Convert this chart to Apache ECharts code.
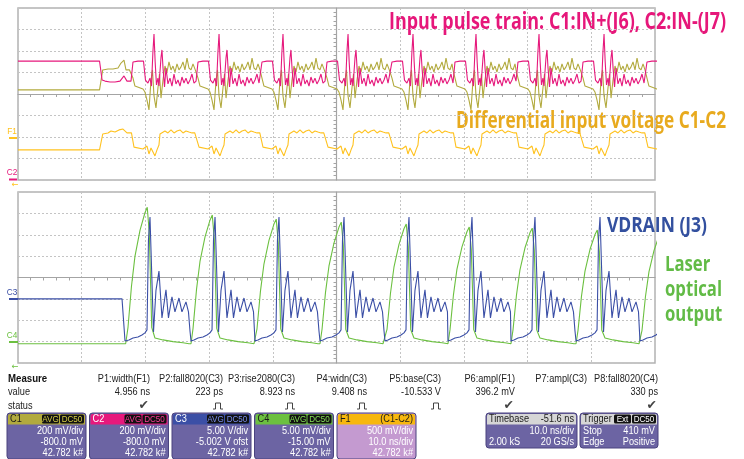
<!DOCTYPE html>
<html>
<head>
<meta charset="utf-8">
<script src="https://cdn.jsdelivr.net/npm/echarts@6/dist/echarts.min.js"></script>
<style>
    html, body { margin: 0; padding: 0; background: #fff; }
    #scope { width: 744px; height: 459px; }
</style>
</head>
<body>
<div id="scope"></div>
<script>
// time in ns (screen centre = 0, 10 ns/div), amplitude in divisions (-4..4)
var cycleStart = [-31.95, -21.74, -11.70, -1.49, 8.71, 18.60, 28.49, 38.70, 48.74];

// top screen: C1 / C2 inputs and F1 = C1-C2
var pinkLead = [[-50, 1.53], [-37.2, 1.53], [-36.8, 0.65], [-36.34, 0.60], [-35.56, 0.56], [-34.77, 0.56], [-33.99, 0.60], [-33.36, 0.84], [-32.89, 0.60]];
var pinkCycle = [[-0.31, 0.60], [0, 1.49], [0.78, 1.53], [1.65, 1.53], [1.96, 0.65], [2.35, 0.51], [2.67, 0.74], [2.90, 0.37], [3.12, 1.9], [3.30, 2.79], [3.48, 1.5], [3.69, 0.42], [3.92, 0.74], [4.08, 0.37], [4.40, 1.7], [4.55, 2.05], [4.72, 1.2], [4.95, 0.33], [5.18, 1.21], [5.49, 0.47], [5.81, 0.74], [6.12, 0.37], [6.44, 0.93], [6.75, 0.47], [7.06, 0.65], [7.38, 0.37], [7.69, 0.79], [8.01, 0.51], [8.32, 0.74], [8.63, 0.47], [8.95, 0.65], [9.26, 0.93], [9.58, 0.51], [9.78, 0.60]];

var oliveLead = [[-50, 0.19], [-37.2, 0.19], [-36.7, 1.12], [-35.87, 1.16], [-35.09, 1.16], [-34.3, 1.21], [-33.83, 1.44], [-33.36, 1.58], [-33.05, 1.12], [-32.5, 1.12]];
var oliveCycle = [[-0.31, 1.12], [0, 0.74], [0.31, 0.37], [1.57, 0.23], [1.88, 0.09], [2.20, -0.28], [2.51, -0.74], [2.83, 0.65], [3.06, 1.12], [3.30, -0.09], [3.61, -0.65], [3.92, 0.28], [4.16, 0.93], [4.40, -0.19], [4.71, 0.65], [5.02, 1.30], [5.34, 1.02], [5.65, 1.49], [5.97, 1.12], [6.28, 1.30], [6.59, 1.02], [6.91, 1.40], [7.22, 1.12], [7.54, 1.26], [7.85, 1.49], [8.16, 1.12], [8.48, 1.67], [8.79, 1.21], [9.11, 1.12], [9.42, 1.40], [9.78, 1.12]];

var yellowLead = [[-50, -2.60], [-37.2, -2.60], [-36.7, -1.86], [-35.87, -1.81], [-35.4, -1.72], [-34.77, -1.77], [-34.14, -1.67], [-33.52, -1.63], [-32.89, -1.81]];
var yellowCycle = [[-0.24, -1.81], [0.16, -2.47], [1.57, -2.56], [1.88, -2.65], [2.20, -2.42], [2.51, -2.79], [2.83, -2.51], [3.14, -2.42], [3.45, -2.88], [3.77, -2.60], [4.08, -2.37], [4.24, -1.86], [4.55, -1.81], [5.02, -1.72], [5.49, -1.81], [5.97, -1.67], [6.44, -1.81], [6.91, -1.72], [7.38, -1.67], [7.85, -1.81], [8.32, -1.72], [8.79, -1.77], [9.26, -1.81], [9.70, -1.81]];

// bottom screen: C3 drain voltage, C4 laser output
var blueLead = [[-50, -1.0], [-33.67, -1.0], [-33.2, -2.97]];
var blueCycle = [[-1.10, -2.97], [-0.63, -2.92], [0, -2.83], [0.78, -2.78], [1.41, -2.69], [1.88, -2.59], [2.20, -2.45], [2.43, 1.75], [2.67, 2.83], [2.83, 1.29], [3.22, -2.55], [3.61, -0.60], [4.08, 0.30], [4.55, -1.89], [5.18, -0.58], [5.57, -1.89], [6.12, -0.91], [6.59, -1.61], [7.22, -0.96], [7.69, -1.61], [8.32, -1.14], [8.71, -1.61], [8.95, -2.50]];

var greenBase = -3.1;
var greenLead = [[-50, -3.1], [-33.1, -3.1]];
var greenPeak = [3.29, 2.92, 2.73, 2.59, 2.50, 2.36, 2.31, 2.22, 2.15];
var greenRise = [[-1.10, 0], [-0.78, 0.12], [-0.24, 0.42], [0.31, 0.64], [1.10, 0.83], [1.88, 0.96], [2.24, 1.0], [2.56, 0.81], [2.94, 0.12]];
var greenTail = [[3.45, -2.83], [4.71, -2.92], [6.28, -3.0], [7.85, -3.05], [8.79, -3.1]];

var annotations = ['Input pulse train: C1:IN+(J6), C2:IN-(J7)', 'Differential input voltage C1-C2', 'VDRAIN (J3)', 'Laser', 'optical', 'output'];

var measureNames = ['P1:width(F1)', 'P2:fall8020(C3)', 'P3:rise2080(C3)', 'P4:widn(C3)', 'P5:base(C3)', 'P6:ampl(F1)', 'P7:ampl(C3)', 'P8:fall8020(C4)'];
var measureValues = ['4.956 ns', '223 ps', '8.923 ns', '9.408 ns', '-10.533 V', '396.2 mV', '', '330 ps'];
var measureStatus = ['ok', 'pulse', 'pulse', 'pulse', 'pulse', 'ok', '', 'ok'];

var channelNames = ['C1', 'C2', 'C3', 'C4', 'F1'];
var channelTags = [['AVG', 'DC50'], ['AVG', 'DC50'], ['AVG', 'DC50'], ['AVG', 'DC50'], []];
var channelSource = ['', '', '', '', '(C1-C2)'];
var channelScale = ['200 mV/div', '200 mV/div', '5.00 V/div', '5.00 mV/div', '500 mV/div'];
var channelOffset = ['-800.0 mV', '-800.0 mV', '-5.002 V ofst', '-15.00 mV', '10.0 ns/div'];
var channelCount = ['42.782 k#', '42.782 k#', '42.782 k#', '42.782 k#', '42.782 k#'];
var timebaseText = ['Timebase', '-51.6 ns', '10.0 ns/div', '2.00 kS', '20 GS/s'];
var triggerText = ['Trigger', 'Ext', 'DC50', 'Stop', '410 mV', 'Edge', 'Positive'];

var COL = {
    c1: '#b2aa3e', c2: '#e6197c', c3: '#3b4fa6', c4: '#6cc040', f1: '#ffc21f',
    txtPink: '#e6177a', txtGold: '#e8aa1e', txtBlue: '#33509f', txtGreen: '#62bb46'
};
var SMALL = '10px "Liberation Sans"';
var SQ = 0.92;   // the scope's UI font is a little narrower than Arial
var BIG = 'bold 23px "Open Sans"';
var measureCtx = document.createElement('canvas').getContext('2d');

function buildTrace(lead, cycle) {
    var out = lead.slice();
    cycleStart.forEach(function (s, k) {
        var limit = k + 1 < cycleStart.length ? cycleStart[k + 1] + cycle[0][0] : Infinity;
        cycle.forEach(function (p) {
            if (s + p[0] < limit) out.push([+(s + p[0]).toFixed(2), p[1]]);
        });
    });
    return out;
}

function buildGreen() {
    var out = greenLead.slice();
    cycleStart.forEach(function (s, k) {
        var peak = greenPeak[k];
        var limit = k + 1 < cycleStart.length ? cycleStart[k + 1] + greenRise[0][0] : Infinity;
        greenRise.forEach(function (p) {
            if (s + p[0] < limit) out.push([+(s + p[0]).toFixed(2), +(greenBase + p[1] * (peak - greenBase)).toFixed(2)]);
        });
        greenTail.forEach(function (p) {
            if (s + p[0] < limit) out.push([+(s + p[0]).toFixed(2), p[1]]);
        });
    });
    return out;
}

function txt(s, x, y, color, align, font, sx) {
    return {
        type: 'text', x: x, y: y, silent: true, scaleX: sx || SQ,
        style: { text: s, fill: color, font: font || SMALL, align: align || 'left', textAlign: align || 'left', verticalAlign: 'middle', textVerticalAlign: 'middle' }
    };
}

// condensed headline text: squeeze to the width it takes in the picture
function fitScale(s, font, width) {
    measureCtx.font = font;
    return width / measureCtx.measureText(s).width;
}

function rect(x, y, w, h, fill, stroke, r) {
    return { type: 'rect', silent: true, shape: { x: x, y: y, width: w, height: h, r: r || 0 }, style: { fill: fill, stroke: stroke || null, lineWidth: stroke ? 1 : 0 } };
}

function seg(x1, y1, x2, y2, color, w) {
    return { type: 'line', silent: true, shape: { x1: x1, y1: y1, x2: x2, y2: y2 }, style: { stroke: color, lineWidth: w || 1 } };
}

function badge(label, right, width, color) {
    return [
        rect(right - width, 414.5, width, 9, '#111', null, 1.5),
        txt(label, right - width / 2, 419.2, color, 'center', '8.5px "Liberation Sans"', 0.95)
    ];
}

function buildGraphics() {
    var g = [];
    // headline annotations
    g.push(txt(annotations[0], 389, 22, COL.txtPink, 'left', BIG, fitScale(annotations[0], BIG, 337)));
    g.push(txt(annotations[1], 456, 121, COL.txtGold, 'left', BIG, fitScale(annotations[1], BIG, 270)));
    var mid = 'bold 22px "Open Sans"';
    g.push(txt(annotations[2], 607, 226, COL.txtBlue, 'left', mid, fitScale(annotations[2], mid, 100)));
    var kg = fitScale(annotations[4], mid, 57);
    [265, 290, 315].forEach(function (y, i) {
        g.push(txt(annotations[3 + i], 665, y, COL.txtGreen, 'left', mid, kg));
    });

    // trace markers at the left edge
    var tiny = '9px "Liberation Sans"';
    g.push(txt('F1', 12, 132, COL.f1, 'center', tiny), seg(9, 138, 17, 138, COL.f1, 2));
    g.push(txt('C2', 12, 173, COL.c2, 'center', tiny), seg(9, 179.5, 17, 179.5, COL.c2, 2));
    g.push(txt('\u2190', 15, 185, COL.f1, 'center', '9px "DejaVu Sans"'));
    g.push(txt('C3', 12, 293, COL.c3, 'center', tiny), seg(9, 299, 18, 299, COL.c3, 2));
    g.push(txt('C4', 12, 336, COL.c4, 'center', tiny), seg(9, 342, 18, 342, COL.c4, 2));
    g.push(txt('\u2190', 15, 367, COL.c4, 'center', '9px "DejaVu Sans"'));

    // measurement table
    g.push(txt('Measure', 8, 379, '#111', 'left', 'bold 10.5px "Liberation Sans"'));
    g.push(txt('value', 8, 392, '#222', 'left'));
    g.push(txt('status', 8, 406, '#222', 'left'));
    var colRight = [150, 223, 295, 367, 441, 515, 587, 658];
    measureNames.forEach(function (name, i) {
        var r = colRight[i];
        g.push(txt(name, r, 379, '#222', 'right'));
        if (measureValues[i]) g.push(txt(measureValues[i], r, 392, '#222', 'right'));
        if (measureStatus[i] === 'ok') {
            g.push(txt('\u2714', r - 1, 406, '#444', 'right', '12.5px "DejaVu Sans"', 1));
        } else if (measureStatus[i] === 'pulse') {
            var cx = r - 5, y = 406;
            g.push({ type: 'polyline', silent: true, shape: { points: [[cx - 5, y + 3], [cx - 2.5, y + 3], [cx - 2.5, y - 3], [cx + 2.5, y - 3], [cx + 2.5, y + 3], [cx + 5, y + 3]] }, style: { stroke: '#444', fill: null, lineWidth: 1 } });
        }
    });

    // channel descriptor boxes
    var headFill = [COL.c1, COL.c2, COL.c3, COL.c4, '#f7b70e'];
    var headText = ['#1a1a1a', '#fff', '#fff', '#1a1a1a', '#1a1a1a'];
    var bodyFill = ['#6c64a3', '#6c64a3', '#6c64a3', '#6c64a3', '#c49ad0'];
    var tagText = ['#d8cf45', '#ff3d98', '#7b8ff0', '#86e258'];
    channelNames.forEach(function (name, i) {
        var x = 7 + i * 82.5, y = 413, w = 79;
        g.push(rect(x, y, w, 46, bodyFill[i], '#4a437f', 3));
        g.push(rect(x + 1, y + 1, w - 2, 10.5, headFill[i], null, [2, 2, 0, 0]));
        g.push(txt(name, x + 3, y + 6.5, headText[i], 'left'));
        var rx = x + w - 2;
        for (var j = channelTags[i].length - 1; j >= 0; j--) {
            var bw = j === 1 ? 24 : 17;
            g = g.concat(badge(channelTags[i][j], rx, bw, tagText[i]));
            rx -= bw + 1;
        }
        if (channelSource[i]) g.push(txt(channelSource[i], x + w - 3, y + 6.5, '#1a1a1a', 'right'));
        g.push(txt(channelScale[i], x + w - 3, 431, '#fff', 'right'));
        g.push(txt(channelOffset[i], x + w - 3, 442.5, '#fff', 'right'));
        g.push(txt(channelCount[i], x + w - 3, 453.5, '#fff', 'right'));
    });

    // timebase box
    var tx = 486, tw = 91;
    g.push(rect(tx, 413, tw, 35, '#6c64a3', '#4a437f', 3));
    g.push(rect(tx + 1, 414, tw - 2, 10.5, '#d6d6d6', null, [2, 2, 0, 0]));
    g.push(txt(timebaseText[0], tx + 3, 419.5, '#1a1a1a', 'left'));
    g.push(txt(timebaseText[1], tx + tw - 3, 419.5, '#1a1a1a', 'right'));
    g.push(txt(timebaseText[2], tx + tw - 3, 431, '#fff', 'right'));
    g.push(txt(timebaseText[3], tx + 3, 442.5, '#fff', 'left'));
    g.push(txt(timebaseText[4], tx + tw - 3, 442.5, '#fff', 'right'));

    // trigger box
    var gx = 580, gw = 78;
    g.push(rect(gx, 413, gw, 35, '#6c64a3', '#4a437f', 3));
    g.push(rect(gx + 1, 414, gw - 2, 10.5, '#d6d6d6', null, [2, 2, 0, 0]));
    g.push(txt(triggerText[0], gx + 3, 419.5, '#1a1a1a', 'left'));
    g = g.concat(badge(triggerText[2], gx + gw - 2, 24, '#fff'));
    g = g.concat(badge(triggerText[1], gx + gw - 27, 17, '#fff'));
    g.push(txt(triggerText[3], gx + 3, 431, '#fff', 'left'));
    g.push(txt(triggerText[4], gx + gw - 3, 431, '#fff', 'right'));
    g.push(txt(triggerText[5], gx + 3, 442.5, '#fff', 'left'));
    g.push(txt(triggerText[6], gx + gw - 3, 442.5, '#fff', 'right'));
    return g;
}

function scopeAxis(kind, idx) {
    var isX = kind === 'x';
    return {
        gridIndex: idx,
        type: 'value',
        min: isX ? -50 : -4,
        max: isX ? 50 : 4,
        interval: isX ? 10 : 1,
        axisLabel: { show: false },
        axisTick: { show: false },
        axisLine: { show: true, onZero: true, lineStyle: { color: '#a4a4a4', width: 1.2 } },
        minorTick: { show: true, splitNumber: 5, length: 3, lineStyle: { color: '#a4a4a4' } },
        splitLine: { show: true, lineStyle: { color: '#c4c4c4', type: [2, 2], width: 1 } }
    };
}

function trace(data, color, grid) {
    return {
        type: 'line', xAxisIndex: grid, yAxisIndex: grid, data: data,
        showSymbol: false, silent: true, clip: true,
        lineStyle: { color: color, width: 1.1 }
    };
}

function getOption() {
    return {
        backgroundColor: '#fff',
        animation: false,
        grid: [
            { left: 18, top: 8, width: 637, height: 172, show: true, borderColor: '#b2b2b2', borderWidth: 1.5 },
            { left: 18, top: 192, width: 637, height: 171, show: true, borderColor: '#b2b2b2', borderWidth: 1.5 }
        ],
        xAxis: [scopeAxis('x', 0), scopeAxis('x', 1)],
        yAxis: [scopeAxis('y', 0), scopeAxis('y', 1)],
        series: [
            trace(buildTrace(oliveLead, oliveCycle), COL.c1, 0),
            trace(buildTrace(pinkLead, pinkCycle), COL.c2, 0),
            trace(buildTrace(yellowLead, yellowCycle), COL.f1, 0),
            trace(buildGreen(), COL.c4, 1),
            trace(buildTrace(blueLead, blueCycle), COL.c3, 1)
        ],
        graphic: { elements: buildGraphics() }
    };
}

var chart = echarts.init(document.getElementById('scope'), null, { renderer: 'canvas' });
chart.setOption(getOption());
</script>
</body>
</html>
